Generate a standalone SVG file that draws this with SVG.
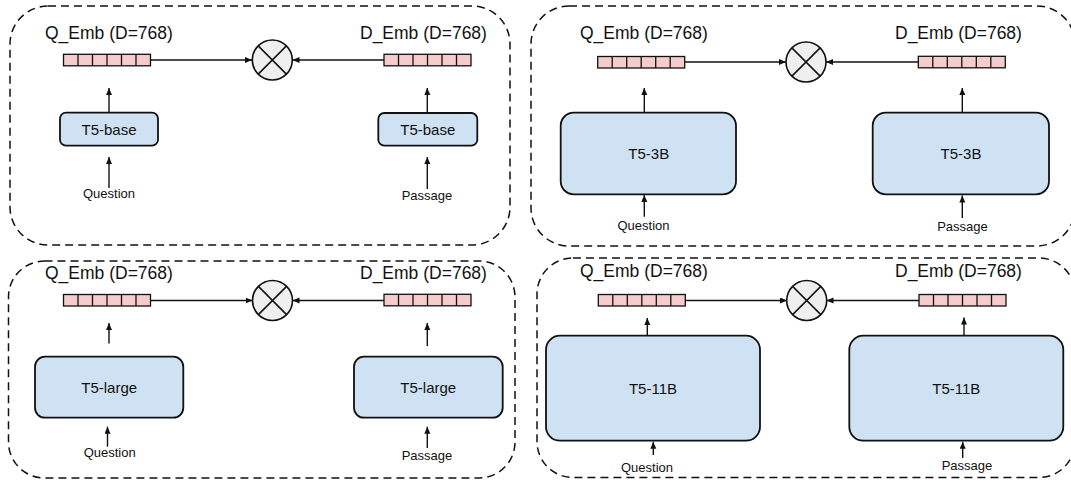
<svg xmlns="http://www.w3.org/2000/svg" xmlns:xlink="http://www.w3.org/1999/xlink" width="1071" height="482" viewBox="0 0 1071 482">
<style>
.panel{fill:none;stroke:#111;stroke-width:1.5;stroke-dasharray:8,5}
.box{fill:#cfe2f3;stroke:#111;stroke-width:1.8}
.cell{fill:#f4cccc;stroke:#111;stroke-width:1.3}
.op{fill:#efefef;stroke:#111;stroke-width:1.6}
.x{stroke:#111;stroke-width:1.5}
.arr{fill:none;stroke:#111;stroke-width:1.4;marker-end:url(#ah)}
.emb{font-family:"Liberation Sans",Arial,sans-serif;font-size:17.5px;fill:#111}
.lbl{font-family:"Liberation Sans",Arial,sans-serif;font-size:15px;fill:#111;text-anchor:middle}
.io{font-family:"Liberation Sans",Arial,sans-serif;font-size:13px;fill:#111;text-anchor:middle}
</style>
<defs>
<marker id="ah" markerUnits="userSpaceOnUse" markerWidth="8" markerHeight="7" refX="7" refY="3" orient="auto">
<path d="M0,0 L7,3 L0,6 z" fill="#111"/>
</marker>
<g id="bar">
<rect class="cell" x="0" y="0" width="87" height="11.5"/>
<path d="M14.5,0v11.5M29,0v11.5M43.5,0v11.5M58,0v11.5M72.5,0v11.5" stroke="#111" stroke-width="1.3"/>
</g>
<g id="mul">
<circle class="op" cx="0" cy="0" r="20"/>
<path class="x" d="M-14.1,-14.1L14.1,14.1M14.1,-14.1L-14.1,14.1"/>
</g>
</defs>

<g id="panels">
<rect id="panel-base" class="panel" x="10" y="6" width="500" height="239" rx="38"/>
<rect id="panel-3b" class="panel" x="531" y="6" width="544" height="240" rx="38"/>
<rect id="panel-large" class="panel" x="8.5" y="261" width="506.5" height="217" rx="36"/>
<rect id="panel-11b" class="panel" x="537" y="258" width="538" height="219.5" rx="36"/>
</g>

<g id="connectors">
<line class="arr" x1="150.5" y1="60" x2="252" y2="60"/>
<line class="arr" x1="384" y1="60" x2="292.5" y2="60"/>
<line class="arr" x1="109" y1="112.7" x2="109" y2="88"/>
<line class="arr" x1="427.3" y1="113" x2="427.3" y2="88"/>
<line class="arr" x1="109" y1="188" x2="109" y2="157"/>
<line class="arr" x1="427.3" y1="189" x2="427.3" y2="157"/>
<line class="arr" x1="684.5" y1="62" x2="786" y2="62"/>
<line class="arr" x1="918.3" y1="62" x2="826" y2="62"/>
<line class="arr" x1="644.3" y1="112.7" x2="644.3" y2="88"/>
<line class="arr" x1="962.3" y1="112.7" x2="962.3" y2="88"/>
<line class="arr" x1="644.3" y1="216.7" x2="644.3" y2="195"/>
<line class="arr" x1="962.3" y1="218" x2="962.3" y2="195.5"/>
<line class="arr" x1="150.5" y1="300.5" x2="252.5" y2="300.5"/>
<line class="arr" x1="384" y1="300.5" x2="292.5" y2="300.5"/>
<line class="arr" x1="109" y1="343.5" x2="109" y2="323"/>
<line class="arr" x1="427.3" y1="346" x2="427.3" y2="323"/>
<line class="arr" x1="107.5" y1="446.7" x2="107.5" y2="426.7"/>
<line class="arr" x1="427.3" y1="448" x2="427.3" y2="426.7"/>
<line class="arr" x1="685" y1="300.5" x2="787" y2="300.5"/>
<line class="arr" x1="919" y1="300.5" x2="826.5" y2="300.5"/>
<line class="arr" x1="647.3" y1="335.7" x2="647.3" y2="318"/>
<line class="arr" x1="964" y1="335.7" x2="964" y2="317.5"/>
<line class="arr" x1="653.3" y1="455" x2="653.3" y2="441.7"/>
<line class="arr" x1="962.7" y1="458" x2="962.7" y2="441.7"/>
</g>

<g id="p1-qemb"><text class="emb" x="45" y="39">Q_Emb (D=768)</text><use href="#bar" x="63.5" y="54.3"/></g>
<g id="p1-demb"><text class="emb" x="360" y="39">D_Emb (D=768)</text><use href="#bar" x="384" y="54.3"/></g>
<g id="p1-mul"><use href="#mul" x="272.3" y="60"/></g>
<g id="p1-qenc"><rect class="box" x="60" y="112.7" width="98" height="33" rx="6"/><text class="lbl" x="109" y="134.6">T5-base</text></g>
<g id="p1-denc"><rect class="box" x="378.3" y="113" width="99" height="32.7" rx="6"/><text class="lbl" x="427.8" y="134.7">T5-base</text></g>
<g id="p1-q"><text class="io" x="109" y="197.5">Question</text></g>
<g id="p1-p"><text class="io" x="427" y="199.5">Passage</text></g>

<g id="p2-qemb"><text class="emb" x="580" y="38.5">Q_Emb (D=768)</text><use href="#bar" x="597.7" y="56.5"/></g>
<g id="p2-demb"><text class="emb" x="895" y="38.5">D_Emb (D=768)</text><use href="#bar" x="918.3" y="56.3"/></g>
<g id="p2-mul"><use href="#mul" x="806" y="62"/></g>
<g id="p2-qenc"><rect class="box" x="560.7" y="112.7" width="175.3" height="81.6" rx="13"/><text class="lbl" x="648.8" y="159">T5-3B</text></g>
<g id="p2-denc"><rect class="box" x="872.7" y="112.7" width="176.3" height="81.6" rx="13"/><text class="lbl" x="961" y="159">T5-3B</text></g>
<g id="p2-q"><text class="io" x="643.5" y="229.5">Question</text></g>
<g id="p2-p"><text class="io" x="962.5" y="231">Passage</text></g>

<g id="p3-qemb"><text class="emb" x="45" y="278.5">Q_Emb (D=768)</text><use href="#bar" x="63.5" y="294.5"/></g>
<g id="p3-demb"><text class="emb" x="360" y="278.5">D_Emb (D=768)</text><use href="#bar" x="384" y="294.3"/></g>
<g id="p3-mul"><use href="#mul" x="272.5" y="300.5"/></g>
<g id="p3-qenc"><rect class="box" x="35" y="356.7" width="148.3" height="61" rx="10"/><text class="lbl" x="109.2" y="392.5">T5-large</text></g>
<g id="p3-denc"><rect class="box" x="354" y="356.7" width="148.7" height="61" rx="10"/><text class="lbl" x="428.3" y="392.5">T5-large</text></g>
<g id="p3-q"><text class="io" x="109.7" y="456.5">Question</text></g>
<g id="p3-p"><text class="io" x="427" y="460">Passage</text></g>

<g id="p4-qemb"><text class="emb" x="580" y="277">Q_Emb (D=768)</text><use href="#bar" x="598.3" y="294.5"/></g>
<g id="p4-demb"><text class="emb" x="895" y="277">D_Emb (D=768)</text><use href="#bar" x="919" y="294.5"/></g>
<g id="p4-mul"><use href="#mul" x="806.7" y="300.5"/></g>
<g id="p4-qenc"><rect class="box" x="546" y="335.7" width="214" height="105" rx="14"/><text class="lbl" x="653" y="393.5">T5-11B</text></g>
<g id="p4-denc"><rect class="box" x="849.3" y="335.7" width="214" height="105" rx="14"/><text class="lbl" x="956.3" y="393.5">T5-11B</text></g>
<g id="p4-q"><text class="io" x="647" y="471.5">Question</text></g>
<g id="p4-p"><text class="io" x="967" y="469.5">Passage</text></g>
</svg>
